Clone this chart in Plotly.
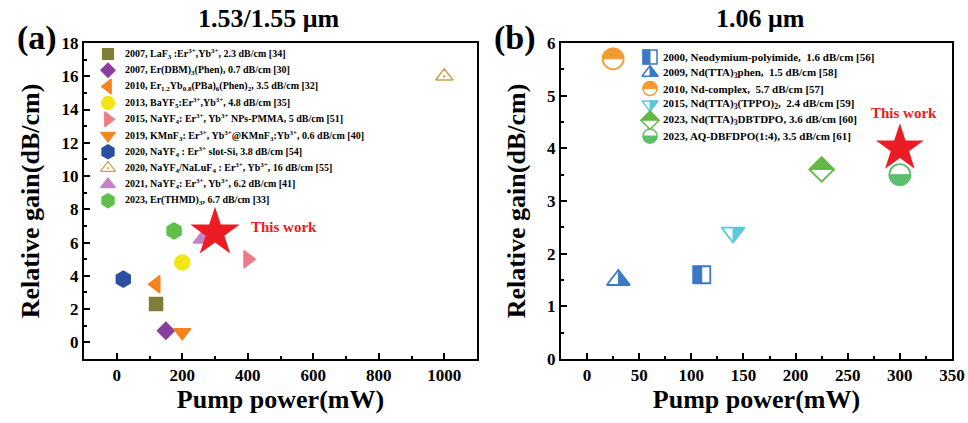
import numpy as np
import plotly.graph_objects as go

# ---------------- data ----------------
# Panel (a): 1.53/1.55 um
a_labels = [
    "2007, LaF<sub>3</sub> :Er<sup>3+</sup>,Yb<sup>3+</sup>, 2.3 dB/cm [34]",
    "2007, Er(DBM)<sub>3</sub>(Phen), 0.7 dB/cm [30]",
    "2010, Er<sub>1.2</sub>Yb<sub>0.8</sub>(PBa)<sub>6</sub>(Phen)<sub>2</sub>, 3.5 dB/cm [32]",
    "2013, BaYF<sub>5</sub>:Er<sup>3+</sup>,Yb<sup>3+</sup>, 4.8 dB/cm [35]",
    "2015, NaYF<sub>4</sub>: Er<sup>3+</sup>, Yb<sup>3+</sup> NPs-PMMA, 5 dB/cm [51]",
    "2019, KMnF<sub>3</sub>: Er<sup>3+</sup>, Yb<sup>3+</sup>@KMnF<sub>3</sub>:Yb<sup>3+</sup>, 0.6 dB/cm [40]",
    "2020, NaYF<sub>4</sub> : Er<sup>3+</sup> slot-Si, 3.8 dB/cm [54]",
    "2020, NaYF<sub>4</sub>/NaLuF<sub>4</sub> : Er<sup>3+</sup>, Yb<sup>3+</sup>, 16 dB/cm [55]",
    "2021, NaYF<sub>4</sub>: Er<sup>3+</sup>, Yb<sup>3+</sup>, 6.2 dB/cm [41]",
    "2023, Er(THMD)<sub>3</sub>, 6.7 dB/cm [33]",
]
a_power = [120, 150, 120, 200, 400, 200, 20, 1000, 260, 175]
a_gain = [2.3, 0.7, 3.5, 4.8, 5.0, 0.6, 3.8, 16.0, 6.2, 6.7]
a_this_power = [300]
a_this_gain = [6.6]

# Panel (b): 1.06 um
b_labels = [
    "2000, Neodymium-polyimide,\u00a0 1.6 dB/cm [56]",
    "2009, Nd(TTA)<sub>3</sub>phen,\u00a0 1.5 dB/cm [58]",
    "2010, Nd-complex,\u00a0 5.7 dB/cm [57]",
    "2015, Nd(TTA)<sub>3</sub>(TPPO)<sub>2</sub>,\u00a0 2.4 dB/cm [59]",
    "2023, Nd(TTA)<sub>3</sub>DBTDPO, 3.6 dB/cm [60]",
    "2023, AQ-DBFDPO(1:4), 3.5 dB/cm [61]",
]
b_power = [110, 30, 25, 140, 225, 300]
b_gain = [1.6, 1.5, 5.7, 2.4, 3.6, 3.5]
b_this_power = [300]
b_this_gain = [4.0]

a_x_ticks = [0, 200, 400, 600, 800, 1000]
a_y_ticks = [0, 2, 4, 6, 8, 10, 12, 14, 16, 18]
b_x_ticks = [0, 50, 100, 150, 200, 250, 300, 350]
b_y_ticks = [0, 1, 2, 3, 4, 5, 6]

# ---------------- styles ----------------
FONT = "Liberation Serif, Times New Roman, serif"
a_symbols = ["square", "diamond", "triangle-left", "circle", "triangle-right",
             "triangle-down", "hexagon", "triangle-up-open-dot", "triangle-up", "hexagon"]
a_colors = ["#7f7d38", "#8a3f9e", "#f5841f", "#f2e614", "#f07a84",
            "#f5841f", "#2b4fa0", "#c9a050", "#c383c6", "#5fbf48"]
a_sizes = [13, 13, 15, 15, 15, 15, 16, 15, 15, 16]

b_symbols = ["square-open", "triangle-up-open", "circle-open", "triangle-down-open",
             "diamond-open", "circle-open"]
b_half = ["left", "tri-up-right", "top", "tri-down-right", "diamond-top", "bottom"]
b_colors = ["#3d78c2", "#3d78c2", "#f39a30", "#5cc8dc", "#62b845", "#5cbf6a"]
b_sizes = [17, 20, 21, 20, 19, 21]
RED = "#ec1c24"

W, H = 968, 423
dom_a_x = [84 / W, 477 / W]
dom_b_x = [561 / W, 952 / W]
dom_y = [(H - 359) / H, (H - 43) / H]


def half_path(kind, size):
    r = size / 2.0
    if kind == "left":
        pts = [(-r, -r), (0, -r), (0, r), (-r, r)]
    elif kind == "tri-up-right":
        rt = r * 2 / np.sqrt(3)
        pts = [(0, r), (rt, -r / 2), (0, -r / 2)]
    elif kind == "tri-down-right":
        rt = r * 2 / np.sqrt(3)
        pts = [(0, -r), (rt, r / 2), (0, r / 2)]
    elif kind == "diamond-top":
        rd = r * 1.3
        pts = [(-rd, 0), (0, rd), (rd, 0)]
    elif kind == "top":
        t = np.linspace(0, np.pi, 25)
        pts = list(zip(r * np.cos(t), r * np.sin(t)))
    else:  # bottom
        t = np.linspace(np.pi, 2 * np.pi, 25)
        pts = list(zip(r * np.cos(t), r * np.sin(t)))
    return "M " + " L ".join(f"{x:.2f},{y:.2f}" for x, y in pts) + " Z"


fig = go.Figure()
shapes = []
annotations = []

# ---- panel (a) points ----
for i in range(len(a_power)):
    fig.add_trace(go.Scatter(
        x=[a_power[i]], y=[a_gain[i]], mode="markers", xaxis="x", yaxis="y",
        marker=dict(symbol=a_symbols[i], size=a_sizes[i], color=a_colors[i],
                    line=dict(color=a_colors[i], width=1.5)),
        name=a_labels[i], showlegend=False, cliponaxis=False))
fig.add_trace(go.Scatter(
    x=a_this_power, y=a_this_gain, mode="markers", xaxis="x", yaxis="y",
    marker=dict(symbol="star", size=37, color=RED, line=dict(width=0)),
    name="This work", showlegend=False, cliponaxis=False))

# ---- panel (b) points ----
for i in range(len(b_power)):
    fig.add_trace(go.Scatter(
        x=[b_power[i]], y=[b_gain[i]], mode="markers", xaxis="x2", yaxis="y2",
        marker=dict(symbol=b_symbols[i], size=b_sizes[i], color=b_colors[i],
                    line=dict(color=b_colors[i], width=1.8)),
        name=b_labels[i], showlegend=False, cliponaxis=False))
    shapes.append(dict(type="path", xref="x2", yref="y2", xsizemode="pixel",
                       ysizemode="pixel", xanchor=b_power[i], yanchor=b_gain[i],
                       path=half_path(b_half[i], b_sizes[i]),
                       fillcolor=b_colors[i], line=dict(color=b_colors[i], width=1),
                       layer="below"))
fig.add_trace(go.Scatter(
    x=b_this_power, y=b_this_gain, mode="markers", xaxis="x2", yaxis="y2",
    marker=dict(symbol="star", size=36, color=RED, line=dict(width=0)),
    name="This work", showlegend=False, cliponaxis=False))

# ---- manual legends on a pixel overlay axis (x3/y3) ----
a_leg_x, a_leg_text_x, a_leg_y0, a_leg_dy = 108, 123, 54, 16.3
for i, lab in enumerate(a_labels):
    yy = a_leg_y0 + i * a_leg_dy
    fig.add_trace(go.Scatter(
        x=[a_leg_x], y=[yy], mode="markers", xaxis="x3", yaxis="y3",
        marker=dict(symbol=a_symbols[i], size=a_sizes[i] - 2, color=a_colors[i],
                    line=dict(color=a_colors[i], width=1.2)),
        showlegend=False, hoverinfo="skip", cliponaxis=False))
    annotations.append(dict(x=a_leg_text_x, y=yy, xref="x3", yref="y3", text=f"<b>{lab}</b>",
                            showarrow=False, xanchor="left", yanchor="middle",
                            font=dict(family=FONT, size=10, color="black")))

b_leg_x, b_leg_text_x, b_leg_y0, b_leg_dy = 650, 661, 57, 15.8
for i, lab in enumerate(b_labels):
    yy = b_leg_y0 + i * b_leg_dy
    sz = 14
    fig.add_trace(go.Scatter(
        x=[b_leg_x], y=[yy], mode="markers", xaxis="x3", yaxis="y3",
        marker=dict(symbol=b_symbols[i], size=sz, color=b_colors[i],
                    line=dict(color=b_colors[i], width=1.5)),
        showlegend=False, hoverinfo="skip", cliponaxis=False))
    shapes.append(dict(type="path", xref="x3", yref="y3", xsizemode="pixel",
                       ysizemode="pixel", xanchor=b_leg_x, yanchor=yy,
                       path=half_path(b_half[i], sz),
                       fillcolor=b_colors[i], line=dict(color=b_colors[i], width=1),
                       layer="below"))
    annotations.append(dict(x=b_leg_text_x, y=yy, xref="x3", yref="y3", text=f"<b>{lab}</b>",
                            showarrow=False, xanchor="left", yanchor="middle",
                            font=dict(family=FONT, size=11, color="black")))

# ---- texts ----
def txt(x, y, s, size, color="black", xanchor="center"):
    annotations.append(dict(x=x, y=y, xref="x3", yref="y3", text=f"<b>{s}</b>",
                            showarrow=False, xanchor=xanchor, yanchor="middle",
                            font=dict(family=FONT, size=size, color=color)))

txt(37, 38, "(a)", 34)
txt(268, 18, "1.53/1.55 \u03bcm", 26)
txt(515, 38, "(b)", 34)
txt(760, 18, "1.06 \u03bcm", 26)
txt(249, 227, "This work", 15, RED, "left")
txt(869, 113, "This work", 15, RED, "left")

axis_common = dict(
    showline=True, linecolor="black", linewidth=2, mirror=True,
    ticks="inside", ticklen=6, tickwidth=2, tickcolor="black",
    showgrid=False, zeroline=False,
    tickfont=dict(family=FONT, size=17, color="black"),
    automargin=False,
)
title_font = dict(family=FONT, size=26, color="black")

fig.update_layout(
    width=W, height=H,
    margin=dict(l=0, r=0, t=0, b=0),
    paper_bgcolor="white", plot_bgcolor="rgba(0,0,0,0)",
    showlegend=False,
    xaxis=dict(domain=dom_a_x, range=[-100, 1100], anchor="y",
               tickvals=a_x_ticks, ticktext=[f"<b>{v}</b>" for v in a_x_ticks],
               minor=dict(ticks="inside", ticklen=3, tickwidth=2, dtick=100, tick0=0,
                          tickcolor="black"),
               title=dict(text="<b>Pump power(mW)</b>", font=title_font, standoff=4),
               **axis_common),
    yaxis=dict(domain=dom_y, range=[-1, 18], anchor="x",
               tickvals=a_y_ticks, ticktext=[f"<b>{v}</b>" for v in a_y_ticks],
               minor=dict(ticks="inside", ticklen=3, tickwidth=2, dtick=1, tick0=0,
                          tickcolor="black"),
               title=dict(text="<b>Relative gain(dB/cm)</b>", font=title_font, standoff=14),
               **axis_common),
    xaxis2=dict(domain=dom_b_x, range=[-25, 350], anchor="y2",
                tickvals=b_x_ticks, ticktext=[f"<b>{v}</b>" for v in b_x_ticks],
                minor=dict(ticks="inside", ticklen=3, tickwidth=2, dtick=25, tick0=0,
                           tickcolor="black"),
                title=dict(text="<b>Pump power(mW)</b>", font=title_font, standoff=4),
                **axis_common),
    yaxis2=dict(domain=dom_y, range=[0, 6], anchor="x2",
                tickvals=b_y_ticks, ticktext=[f"<b>{v}</b>" for v in b_y_ticks],
                minor=dict(ticks="inside", ticklen=3, tickwidth=2, dtick=0.5, tick0=0,
                           tickcolor="black"),
                title=dict(text="<b>Relative gain(dB/cm)</b>", font=title_font, standoff=14),
                **axis_common),
    xaxis3=dict(domain=[0, 1], range=[0, W], anchor="y3", visible=False, fixedrange=True),
    yaxis3=dict(domain=[0, 1], range=[H, 0], anchor="x3", visible=False, fixedrange=True),
    shapes=shapes,
    annotations=annotations,
)

fig.write_html("out.html")
